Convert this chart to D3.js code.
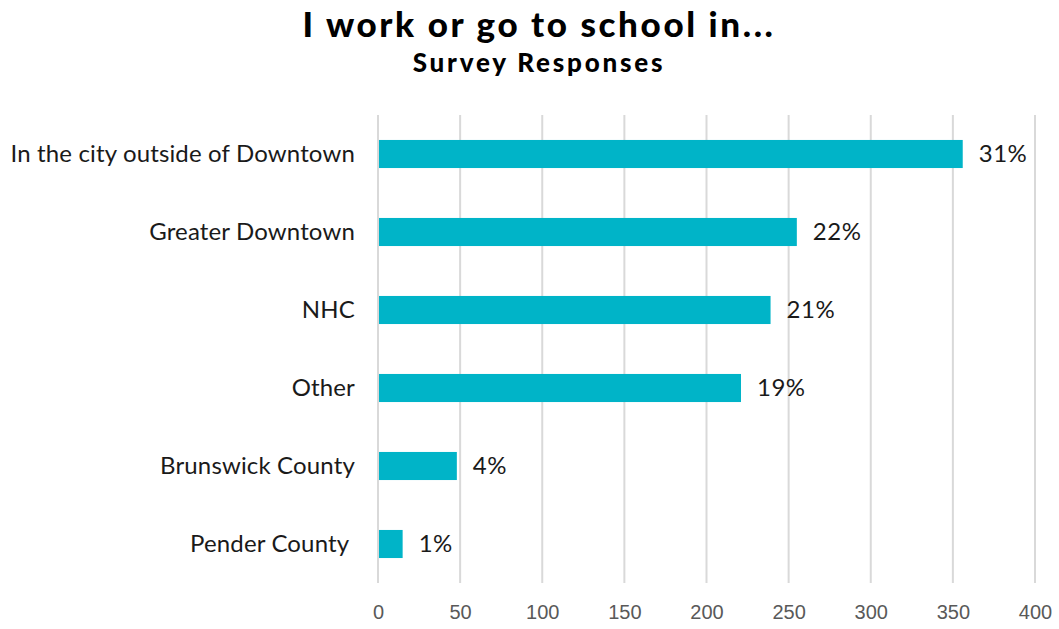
<!DOCTYPE html>
<html>
<head>
<meta charset="utf-8">
<script src="https://cdn.jsdelivr.net/npm/d3@7"></script>
<style>
  body { margin: 0; background: #fff; }
  .cat { font-family: Lato, "Noto Sans", sans-serif; font-size: 24px; fill: #1a1a1a; letter-spacing: 0.15px; white-space: pre; }
  .val { font-family: Lato, "Noto Sans", sans-serif; font-size: 24px; fill: #1a1a1a; letter-spacing: 0.5px; }
  .tick text { font-family: "Liberation Sans", Arial, sans-serif; font-size: 20px; fill: #595959; }
</style>
</head>
<body>
<div id="chart"></div>
<script>
// data
var categories = ["In the city outside of Downtown", "Greater Downtown", "NHC", "Other", "Brunswick County", "Pender County "];
var responses = [356, 255, 239, 221, 48, 15];
var percents = ["31%", "22%", "21%", "19%", "4%", "1%"];
var xTicks = [0, 50, 100, 150, 200, 250, 300, 350, 400];

var W = 1059, H = 629;
var margin = {top: 115, right: 24, bottom: 46, left: 378},
    width = W - margin.left - margin.right,
    height = H - margin.top - margin.bottom;

var svg = d3.select("#chart")
  .append("svg")
    .attr("width", W)
    .attr("height", H);

// titles
svg.append("text")
  .attr("x", 539).attr("y", 37)
  .attr("text-anchor", "middle")
  .style("font-family", "Lato, 'Noto Sans', sans-serif")
  .style("font-weight", 900)
  .style("font-size", "35px")
  .style("letter-spacing", "2.6px")
  .text("I work or go to school in...");

svg.append("text")
  .attr("x", 539).attr("y", 72)
  .attr("text-anchor", "middle")
  .style("font-family", "Lato, 'Noto Sans', sans-serif")
  .style("font-weight", 900)
  .style("font-size", "26px")
  .style("letter-spacing", "2.8px")
  .text("Survey Responses");

var g = svg.append("g")
  .attr("transform", "translate(" + margin.left + "," + margin.top + ")");

var x = d3.scaleLinear().domain([0, 400]).range([0, width]);
var y = d3.scaleBand().domain(categories).range([0, height]).paddingInner(0.64).paddingOuter(0.32);

// gridlines
g.selectAll(".grid")
  .data(xTicks)
  .enter().append("line")
    .attr("class", "grid")
    .attr("x1", function(d) { return x(d); })
    .attr("x2", function(d) { return x(d); })
    .attr("y1", 0)
    .attr("y2", height)
    .attr("stroke", "#d9d9d9")
    .attr("stroke-width", 2);

// x axis (labels only)
var xAxis = g.append("g")
  .attr("transform", "translate(0," + height + ")")
  .call(d3.axisBottom(x).tickValues(xTicks).tickSize(0).tickPadding(22));
xAxis.select(".domain").remove();

// bars
g.selectAll(".bar")
  .data(categories)
  .enter().append("rect")
    .attr("class", "bar")
    .attr("x", x(0) + 1)
    .attr("y", function(d) { return y(d); })
    .attr("width", function(d, i) { return x(responses[i]) - x(0) - 1; })
    .attr("height", y.bandwidth())
    .attr("fill", "#00b4c8");

// category labels
g.selectAll(".cat")
  .data(categories)
  .enter().append("text")
    .attr("class", "cat")
    .attr("x", -23)
    .attr("y", function(d) { return y(d) + y.bandwidth() / 2; })
    .attr("dy", "0.35em")
    .attr("text-anchor", "end")
    .text(function(d) { return d; });

// value labels
g.selectAll(".val")
  .data(categories)
  .enter().append("text")
    .attr("class", "val")
    .attr("x", function(d, i) { return x(responses[i]) + 16; })
    .attr("y", function(d) { return y(d) + y.bandwidth() / 2; })
    .attr("dy", "0.35em")
    .text(function(d, i) { return percents[i]; });
</script>
</body>
</html>
